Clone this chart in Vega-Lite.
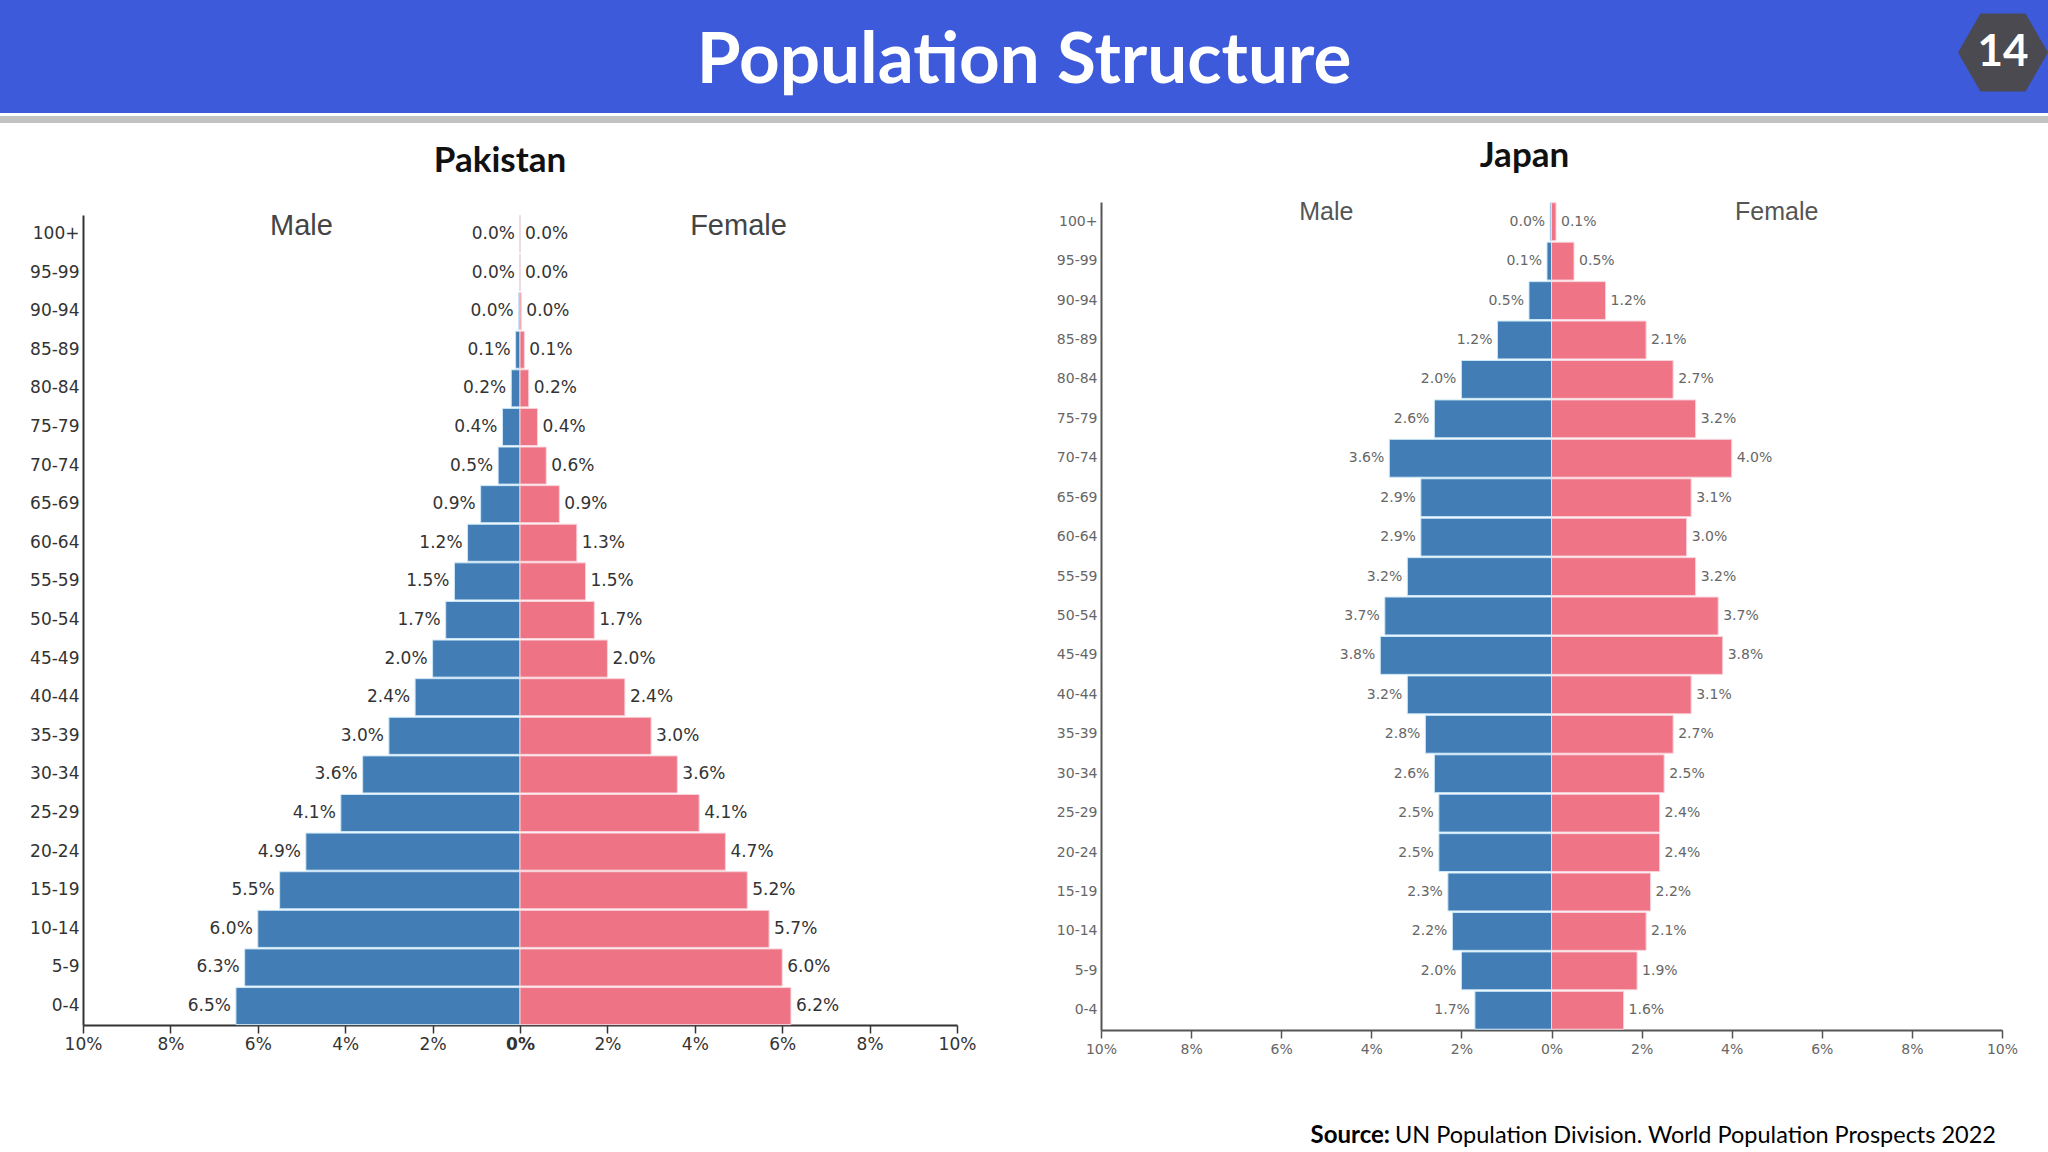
{
  "$schema": "https://vega.github.io/schema/vega-lite/v6.json",
  "padding": 0,
  "background": "white",
  "config": {"view": {"stroke": null}, "concat": {"spacing": 0}},
  "datasets": {
    "pak": [
      {"age": "100+", "sex": "Male", "value": 0}, {"age": "100+", "sex": "Female", "value": 0},
      {"age": "95-99", "sex": "Male", "value": 0}, {"age": "95-99", "sex": "Female", "value": 0},
      {"age": "90-94", "sex": "Male", "value": 0.0003}, {"age": "90-94", "sex": "Female", "value": 0.0003},
      {"age": "85-89", "sex": "Male", "value": 0.001}, {"age": "85-89", "sex": "Female", "value": 0.001},
      {"age": "80-84", "sex": "Male", "value": 0.002}, {"age": "80-84", "sex": "Female", "value": 0.002},
      {"age": "75-79", "sex": "Male", "value": 0.004}, {"age": "75-79", "sex": "Female", "value": 0.004},
      {"age": "70-74", "sex": "Male", "value": 0.005}, {"age": "70-74", "sex": "Female", "value": 0.006},
      {"age": "65-69", "sex": "Male", "value": 0.009}, {"age": "65-69", "sex": "Female", "value": 0.009},
      {"age": "60-64", "sex": "Male", "value": 0.012}, {"age": "60-64", "sex": "Female", "value": 0.013},
      {"age": "55-59", "sex": "Male", "value": 0.015}, {"age": "55-59", "sex": "Female", "value": 0.015},
      {"age": "50-54", "sex": "Male", "value": 0.017}, {"age": "50-54", "sex": "Female", "value": 0.017},
      {"age": "45-49", "sex": "Male", "value": 0.020}, {"age": "45-49", "sex": "Female", "value": 0.020},
      {"age": "40-44", "sex": "Male", "value": 0.024}, {"age": "40-44", "sex": "Female", "value": 0.024},
      {"age": "35-39", "sex": "Male", "value": 0.030}, {"age": "35-39", "sex": "Female", "value": 0.030},
      {"age": "30-34", "sex": "Male", "value": 0.036}, {"age": "30-34", "sex": "Female", "value": 0.036},
      {"age": "25-29", "sex": "Male", "value": 0.041}, {"age": "25-29", "sex": "Female", "value": 0.041},
      {"age": "20-24", "sex": "Male", "value": 0.049}, {"age": "20-24", "sex": "Female", "value": 0.047},
      {"age": "15-19", "sex": "Male", "value": 0.055}, {"age": "15-19", "sex": "Female", "value": 0.052},
      {"age": "10-14", "sex": "Male", "value": 0.060}, {"age": "10-14", "sex": "Female", "value": 0.057},
      {"age": "5-9", "sex": "Male", "value": 0.063}, {"age": "5-9", "sex": "Female", "value": 0.060},
      {"age": "0-4", "sex": "Male", "value": 0.065}, {"age": "0-4", "sex": "Female", "value": 0.062}
    ],
    "jpn": [
      {"age": "100+", "sex": "Male", "value": 0.0003}, {"age": "100+", "sex": "Female", "value": 0.001},
      {"age": "95-99", "sex": "Male", "value": 0.001}, {"age": "95-99", "sex": "Female", "value": 0.005},
      {"age": "90-94", "sex": "Male", "value": 0.005}, {"age": "90-94", "sex": "Female", "value": 0.012},
      {"age": "85-89", "sex": "Male", "value": 0.012}, {"age": "85-89", "sex": "Female", "value": 0.021},
      {"age": "80-84", "sex": "Male", "value": 0.020}, {"age": "80-84", "sex": "Female", "value": 0.027},
      {"age": "75-79", "sex": "Male", "value": 0.026}, {"age": "75-79", "sex": "Female", "value": 0.032},
      {"age": "70-74", "sex": "Male", "value": 0.036}, {"age": "70-74", "sex": "Female", "value": 0.040},
      {"age": "65-69", "sex": "Male", "value": 0.029}, {"age": "65-69", "sex": "Female", "value": 0.031},
      {"age": "60-64", "sex": "Male", "value": 0.029}, {"age": "60-64", "sex": "Female", "value": 0.030},
      {"age": "55-59", "sex": "Male", "value": 0.032}, {"age": "55-59", "sex": "Female", "value": 0.032},
      {"age": "50-54", "sex": "Male", "value": 0.037}, {"age": "50-54", "sex": "Female", "value": 0.037},
      {"age": "45-49", "sex": "Male", "value": 0.038}, {"age": "45-49", "sex": "Female", "value": 0.038},
      {"age": "40-44", "sex": "Male", "value": 0.032}, {"age": "40-44", "sex": "Female", "value": 0.031},
      {"age": "35-39", "sex": "Male", "value": 0.028}, {"age": "35-39", "sex": "Female", "value": 0.027},
      {"age": "30-34", "sex": "Male", "value": 0.026}, {"age": "30-34", "sex": "Female", "value": 0.025},
      {"age": "25-29", "sex": "Male", "value": 0.025}, {"age": "25-29", "sex": "Female", "value": 0.024},
      {"age": "20-24", "sex": "Male", "value": 0.025}, {"age": "20-24", "sex": "Female", "value": 0.024},
      {"age": "15-19", "sex": "Male", "value": 0.023}, {"age": "15-19", "sex": "Female", "value": 0.022},
      {"age": "10-14", "sex": "Male", "value": 0.022}, {"age": "10-14", "sex": "Female", "value": 0.021},
      {"age": "5-9", "sex": "Male", "value": 0.020}, {"age": "5-9", "sex": "Female", "value": 0.019},
      {"age": "0-4", "sex": "Male", "value": 0.017}, {"age": "0-4", "sex": "Female", "value": 0.016}
    ]
  },
  "vconcat": [
    {
      "spacing": 0,
      "hconcat": [
        {"width": 90, "height": 113, "view": {"fill": "#3d5adb", "stroke": null}, "data": {"values": [{"t": ""}]}, "mark": {"type": "text"}, "encoding": {"text": {"field": "t"}}},
        {"width": 1868, "height": 113, "view": {"fill": "#3d5adb", "stroke": null}, "data": {"values": [{"t": "Population Structure"}]},
         "mark": {"type": "text", "font": "Lato", "fontSize": 71, "fontWeight": "bold", "color": "white", "baseline": "alphabetic", "dy": 26},
         "encoding": {"text": {"field": "t"}}},
        {"width": 90, "height": 113, "view": {"fill": "#3d5adb", "stroke": null}, "data": {"values": [{"t": "14"}]},
         "layer": [
           {"mark": {"type": "point", "shape": "M -1 0 L -0.5 -0.866 L 0.5 -0.866 L 1 0 L 0.5 0.866 L -0.5 0.866 Z", "size": 8100, "filled": true, "color": "#4a4a50", "opacity": 1, "strokeWidth": 0}, "encoding": {"yOffset": {"value": -4}}},
           {"mark": {"type": "text", "font": "Lato", "fontSize": 44, "fontWeight": "bold", "color": "white", "baseline": "middle", "dy": -4}, "encoding": {"text": {"field": "t"}}}
         ]}
      ]
    },
    {"width": 2048, "height": 7, "view": {"fill": "#c2c2c2", "stroke": null}, "data": {"values": [{"t": ""}]}, "mark": {"type": "text"}, "encoding": {"text": {"field": "t"}}},
    {"width": 2048, "height": 13, "data": {"values": [{"t": ""}]}, "mark": {"type": "text"}, "encoding": {"text": {"field": "t"}}},
    {
      "spacing": 0,
      "hconcat": [
        {"width": 29, "height": 10, "data": {"values": [{"t": ""}]}, "mark": {"type": "text"}, "encoding": {"text": {"field": "t"}}},
        {
          "spacing": 80,
          "hconcat": [
            {
              "width": 874, "height": 823,
              "title": {"text": "Pakistan", "font": "Lato", "fontSize": 35, "fontWeight": "bold", "color": "#111", "anchor": "middle", "dx": -20, "offset": 23},
              "data": {"name": "pak"},
              "encoding": {
                "y": {"field": "age", "type": "nominal",
                  "sort": ["100+","95-99","90-94","85-89","80-84","75-79","70-74","65-69","60-64","55-59","50-54","45-49","40-44","35-39","30-34","25-29","20-24","15-19","10-14","5-9","0-4"],
                  "scale": {"range": [13, 823], "paddingInner": 0.04, "paddingOuter": 0.01},
                  "axis": {"title": null, "ticks": false, "domain": true, "domainColor": "#333", "domainWidth": 2, "labelPadding": 4, "labelFont": "DejaVu Sans", "labelFontSize": 17, "labelColor": "#333"}}
              },
              "layer": [
                {"transform": [{"filter": "datum.sex === 'Male'"}],
                 "mark": {"type": "bar", "color": "#427db5", "stroke": "#cbe7f7", "strokeWidth": 1},
                 "encoding": {"x": {"field": "value", "type": "quantitative", "scale": {"domain": [-0.1, 0.1], "reverse": true}, "axis": null}}},
                {"transform": [{"filter": "datum.sex === 'Female'"}],
                 "mark": {"type": "bar", "color": "#ee7485", "stroke": "#f7d3da", "strokeWidth": 1},
                 "encoding": {"x": {"field": "value", "type": "quantitative", "scale": {"domain": [-0.1, 0.1]},
                   "axis": {"title": null, "grid": false, "values": [-0.1, -0.08, -0.06, -0.04, -0.02, 0, 0.02, 0.04, 0.06, 0.08, 0.1],
                     "labelExpr": "format(abs(datum.value), '.0%')", "labelFlush": false, "labelOverlap": false,
                     "domainColor": "#333", "domainWidth": 2, "tickColor": "#333", "tickSize": 8, "tickWidth": 1.5,
                     "labelFont": "DejaVu Sans", "labelFontSize": 17, "labelColor": "#333", "labelPadding": 3,
                     "labelFontWeight": {"condition": {"test": "datum.value === 0", "value": "bold"}, "value": "normal"}}}}},
                {"transform": [{"filter": "datum.sex === 'Male'"}],
                 "mark": {"type": "text", "align": "right", "baseline": "middle", "dx": -5, "font": "DejaVu Sans", "fontSize": 17, "color": "#333"},
                 "encoding": {"x": {"field": "value", "type": "quantitative", "scale": {"domain": [-0.1, 0.1], "reverse": true}, "axis": null},
                   "text": {"field": "value", "type": "quantitative", "format": ".1%"}}},
                {"transform": [{"filter": "datum.sex === 'Female'"}],
                 "mark": {"type": "text", "align": "left", "baseline": "middle", "dx": 5, "font": "DejaVu Sans", "fontSize": 17, "color": "#333"},
                 "encoding": {"x": {"field": "value", "type": "quantitative", "scale": {"domain": [-0.1, 0.1]}, "axis": null},
                   "text": {"field": "value", "type": "quantitative", "format": ".1%"}}},
                {"data": {"values": [{"t": "Male"}]},
                 "mark": {"type": "text", "font": "Liberation Sans", "fontSize": 29, "color": "#444", "dy": -8},
                 "encoding": {"x": {"datum": -0.05, "type": "quantitative", "scale": {"domain": [-0.1, 0.1]}, "axis": null},
                   "y": {"datum": "100+", "type": "nominal"}, "text": {"field": "t"}}},
                {"data": {"values": [{"t": "Female"}]},
                 "mark": {"type": "text", "font": "Liberation Sans", "fontSize": 29, "color": "#444", "dy": -8},
                 "encoding": {"x": {"datum": 0.05, "type": "quantitative", "scale": {"domain": [-0.1, 0.1]}, "axis": null},
                   "y": {"datum": "100+", "type": "nominal"}, "text": {"field": "t"}}}
              ],
              "resolve": {"scale": {"x": "independent"}}
            },
            {
              "width": 901, "height": 828,
              "title": {"text": "Japan", "font": "Lato", "fontSize": 35, "fontWeight": "bold", "color": "#111", "anchor": "middle", "dx": -27, "offset": 26},
              "data": {"name": "jpn"},
              "encoding": {
                "y": {"field": "age", "type": "nominal",
                  "sort": ["100+","95-99","90-94","85-89","80-84","75-79","70-74","65-69","60-64","55-59","50-54","45-49","40-44","35-39","30-34","25-29","20-24","15-19","10-14","5-9","0-4"],
                  "scale": {"paddingInner": 0.04, "paddingOuter": 0.02},
                  "axis": {"title": null, "ticks": false, "domain": true, "domainColor": "#555", "domainWidth": 2, "labelPadding": 4, "labelFont": "DejaVu Sans", "labelFontSize": 14, "labelColor": "#666"}}
              },
              "layer": [
                {"transform": [{"filter": "datum.sex === 'Male'"}],
                 "mark": {"type": "bar", "color": "#427db5", "stroke": "#cbe7f7", "strokeWidth": 1},
                 "encoding": {"x": {"field": "value", "type": "quantitative", "scale": {"domain": [-0.1, 0.1], "reverse": true}, "axis": null}}},
                {"transform": [{"filter": "datum.sex === 'Female'"}],
                 "mark": {"type": "bar", "color": "#ef7486", "stroke": "#f7d3da", "strokeWidth": 1},
                 "encoding": {"x": {"field": "value", "type": "quantitative", "scale": {"domain": [-0.1, 0.1]},
                   "axis": {"title": null, "grid": false, "values": [-0.1, -0.08, -0.06, -0.04, -0.02, 0, 0.02, 0.04, 0.06, 0.08, 0.1],
                     "labelExpr": "format(abs(datum.value), '.0%')", "labelFlush": false, "labelOverlap": false,
                     "domainColor": "#555", "domainWidth": 2, "tickColor": "#555", "tickSize": 8, "tickWidth": 1.5,
                     "labelFont": "DejaVu Sans", "labelFontSize": 14, "labelColor": "#666", "labelPadding": 4}}}},
                {"transform": [{"filter": "datum.sex === 'Male'"}],
                 "mark": {"type": "text", "align": "right", "baseline": "middle", "dx": -5, "font": "DejaVu Sans", "fontSize": 14, "color": "#666"},
                 "encoding": {"x": {"field": "value", "type": "quantitative", "scale": {"domain": [-0.1, 0.1], "reverse": true}, "axis": null},
                   "text": {"field": "value", "type": "quantitative", "format": ".1%"}}},
                {"transform": [{"filter": "datum.sex === 'Female'"}],
                 "mark": {"type": "text", "align": "left", "baseline": "middle", "dx": 5, "font": "DejaVu Sans", "fontSize": 14, "color": "#666"},
                 "encoding": {"x": {"field": "value", "type": "quantitative", "scale": {"domain": [-0.1, 0.1]}, "axis": null},
                   "text": {"field": "value", "type": "quantitative", "format": ".1%"}}},
                {"data": {"values": [{"t": "Male"}]},
                 "mark": {"type": "text", "font": "Liberation Sans", "fontSize": 25, "color": "#555", "dy": -10},
                 "encoding": {"x": {"datum": -0.05, "type": "quantitative", "scale": {"domain": [-0.1, 0.1]}, "axis": null},
                   "y": {"datum": "100+", "type": "nominal"}, "text": {"field": "t"}}},
                {"data": {"values": [{"t": "Female"}]},
                 "mark": {"type": "text", "font": "Liberation Sans", "fontSize": 25, "color": "#555", "dy": -10},
                 "encoding": {"x": {"datum": 0.05, "type": "quantitative", "scale": {"domain": [-0.1, 0.1]}, "axis": null},
                   "y": {"datum": "100+", "type": "nominal"}, "text": {"field": "t"}}}
              ],
              "resolve": {"scale": {"x": "independent"}}
            }
          ]
        }
      ]
    },
    {"width": 2048, "height": 63, "data": {"values": [{"t": ""}]}, "mark": {"type": "text"}, "encoding": {"text": {"field": "t"}}},
    {"width": 2048, "height": 34, "data": {"values": [{"a": "Source:", "b": "UN Population Division. World Population Prospects 2022"}]},
     "layer": [
       {"mark": {"type": "text", "font": "Lato", "fontSize": 24, "fontWeight": "bold", "align": "right", "baseline": "middle", "dx": 366, "color": "#000"}, "encoding": {"text": {"field": "a"}}},
       {"mark": {"type": "text", "font": "Lato", "fontSize": 23.5, "align": "right", "baseline": "middle", "dx": 972, "color": "#000"}, "encoding": {"text": {"field": "b"}}}
     ]}
  ]
}
